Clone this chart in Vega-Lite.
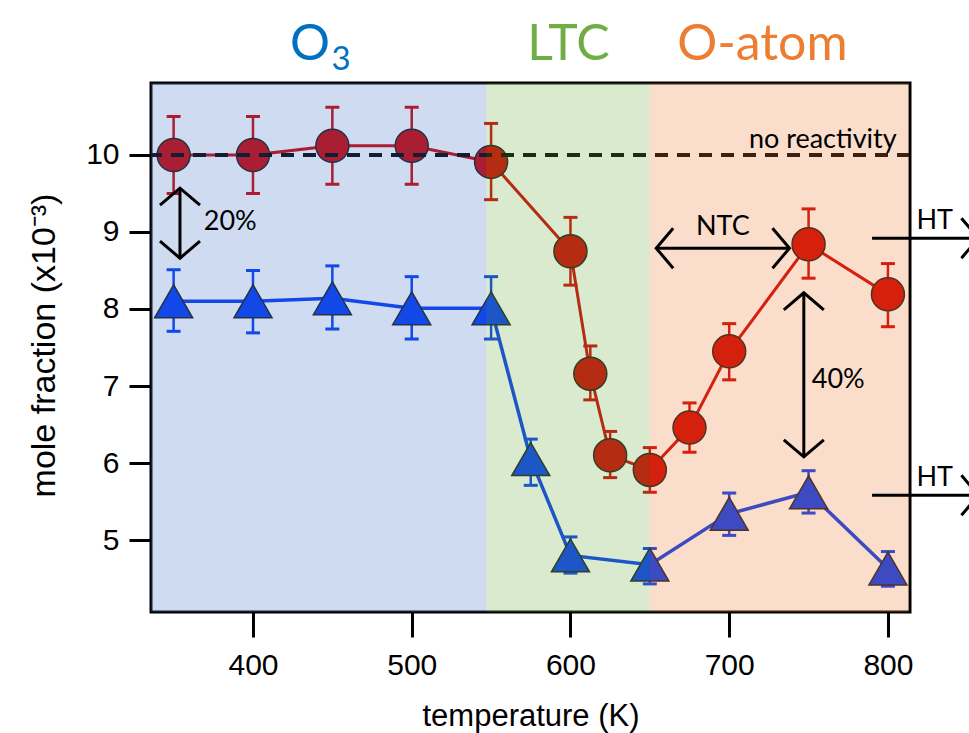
{
  "$schema": "https://vega.github.io/schema/vega-lite/v6.json",
  "width": 759,
  "height": 529,
  "autosize": {"type": "none"},
  "padding": {"left": 151, "top": 83, "right": 59, "bottom": 121},
  "background": "white",
  "config": {
    "font": "Liberation Sans",
    "view": {"stroke": "#000000", "strokeWidth": 3},
    "axis": {
      "domain": false, "grid": false, "ticks": true,
      "tickColor": "#000000", "tickWidth": 3, "tickSize": 24,
      "labelFont": "Liberation Sans", "labelFontSize": 30, "labelColor": "#000000",
      "titleFont": "Liberation Sans", "titleFontSize": 31, "titleFontWeight": "normal", "titleColor": "#000000"
    }
  },
  "datasets": {
    "meas": [
      {"series": "neat", "T": 350, "y": 10.0, "lo": 9.5, "hi": 10.5},
      {"series": "neat", "T": 400, "y": 10.0, "lo": 9.5, "hi": 10.5},
      {"series": "neat", "T": 450, "y": 10.12, "lo": 9.62, "hi": 10.62},
      {"series": "neat", "T": 500, "y": 10.12, "lo": 9.62, "hi": 10.62},
      {"series": "neat", "T": 550, "y": 9.91, "lo": 9.42, "hi": 10.41},
      {"series": "neat", "T": 600, "y": 8.75, "lo": 8.31, "hi": 9.19},
      {"series": "neat", "T": 612.5, "y": 7.16, "lo": 6.82, "hi": 7.52},
      {"series": "neat", "T": 625, "y": 6.1, "lo": 5.81, "hi": 6.41},
      {"series": "neat", "T": 650, "y": 5.91, "lo": 5.62, "hi": 6.2},
      {"series": "neat", "T": 675, "y": 6.46, "lo": 6.14, "hi": 6.78},
      {"series": "neat", "T": 700, "y": 7.45, "lo": 7.08, "hi": 7.81},
      {"series": "neat", "T": 750, "y": 8.84, "lo": 8.4, "hi": 9.3},
      {"series": "neat", "T": 800, "y": 8.19, "lo": 7.77, "hi": 8.59},
      {"series": "O3", "T": 350, "y": 8.1, "lo": 7.71, "hi": 8.51},
      {"series": "O3", "T": 400, "y": 8.1, "lo": 7.69, "hi": 8.5},
      {"series": "O3", "T": 450, "y": 8.14, "lo": 7.74, "hi": 8.56},
      {"series": "O3", "T": 500, "y": 8.01, "lo": 7.61, "hi": 8.42},
      {"series": "O3", "T": 550, "y": 8.01, "lo": 7.61, "hi": 8.42},
      {"series": "O3", "T": 575, "y": 6.05, "lo": 5.71, "hi": 6.31},
      {"series": "O3", "T": 600, "y": 4.8, "lo": 4.57, "hi": 5.04},
      {"series": "O3", "T": 650, "y": 4.68, "lo": 4.43, "hi": 4.89},
      {"series": "O3", "T": 700, "y": 5.34, "lo": 5.06, "hi": 5.61},
      {"series": "O3", "T": 750, "y": 5.62, "lo": 5.35, "hi": 5.9},
      {"series": "O3", "T": 800, "y": 4.63, "lo": 4.4, "hi": 4.85}
    ],
    "regimes": [
      {"regime": "O3", "T": 335.75, "T2": 547},
      {"regime": "LTC", "T": 547, "T2": 650},
      {"regime": "O-atom", "T": 650, "T2": 813.2}
    ],
    "arrows": [
      {"T": 354, "y": 9.57, "T2": 354, "y2": 8.66},
      {"T": 654, "y": 8.79, "T2": 738, "y2": 8.79},
      {"T": 747, "y": 8.21, "T2": 747, "y2": 6.08},
      {"T": 790, "y": 8.92, "T2": 857, "y2": 8.92},
      {"T": 790, "y": 5.58, "T2": 857, "y2": 5.58}
    ],
    "heads": [
      {"T": 354, "y": 9.57, "dir": "up"},
      {"T": 354, "y": 8.66, "dir": "down"},
      {"T": 654, "y": 8.79, "dir": "left"},
      {"T": 738, "y": 8.79, "dir": "right"},
      {"T": 747, "y": 8.21, "dir": "up"},
      {"T": 747, "y": 6.08, "dir": "down"},
      {"T": 857, "y": 8.92, "dir": "right"},
      {"T": 857, "y": 5.58, "dir": "right"}
    ]
  },
  "resolve": {"scale": {"color": "independent"}},
  "layer": [
    {
      "data": {"name": "meas"},
      "transform": [{"filter": "datum.series === 'neat'"}],
      "mark": {"type": "line", "color": "#cc0000", "strokeWidth": 3},
      "encoding": {
        "x": {"field": "T", "type": "quantitative",
              "scale": {"domain": [335.75, 813.9], "nice": false, "zero": false},
              "axis": {"title": "temperature (K)", "values": [400, 500, 600, 700, 800], "format": "d",
                       "tickSize": 25, "tickWidth": 3, "tickColor": "#000000",
                       "labelFont": "Liberation Sans", "labelFontSize": 30, "labelPadding": 13,
                       "titleFont": "Liberation Sans", "titleFontSize": 31,
                       "titleY": 89, "titleBaseline": "top"}},
        "y": {"field": "y", "type": "quantitative",
              "scale": {"domain": [4.065, 10.935], "nice": false, "zero": false},
              "axis": {"title": "mole fraction (x10⁻³)", "values": [5, 6, 7, 8, 9, 10], "format": "d",
                       "tickSize": 22, "tickWidth": 3, "tickColor": "#000000",
                       "labelFont": "Liberation Sans", "labelFontSize": 30, "labelPadding": 10,
                       "titleFont": "Liberation Sans", "titleFontSize": 34,
                       "titleX": -97, "titleY": 262, "titleBaseline": "alphabetic"}}
      }
    },
    {
      "data": {"name": "meas"},
      "transform": [{"filter": "datum.series === 'O3'"}],
      "mark": {"type": "line", "color": "#0039f5", "strokeWidth": 3.5},
      "encoding": {
        "x": {"field": "T", "type": "quantitative"},
        "y": {"field": "y", "type": "quantitative"}
      }
    },
    {
      "data": {"name": "meas"},
      "transform": [{"filter": "datum.series === 'neat'"}],
      "mark": {"type": "rule", "color": "#cc0000", "strokeWidth": 2.5},
      "encoding": {
        "x": {"field": "T", "type": "quantitative"},
        "y": {"field": "lo", "type": "quantitative"},
        "y2": {"field": "hi"}
      }
    },
    {
      "data": {"name": "meas"},
      "transform": [{"filter": "datum.series === 'neat'"}],
      "mark": {"type": "tick", "orient": "horizontal", "color": "#cc0000", "size": 14, "thickness": 3, "opacity": 1},
      "encoding": {
        "x": {"field": "T", "type": "quantitative"},
        "y": {"field": "lo", "type": "quantitative"}
      }
    },
    {
      "data": {"name": "meas"},
      "transform": [{"filter": "datum.series === 'neat'"}],
      "mark": {"type": "tick", "orient": "horizontal", "color": "#cc0000", "size": 14, "thickness": 3, "opacity": 1},
      "encoding": {
        "x": {"field": "T", "type": "quantitative"},
        "y": {"field": "hi", "type": "quantitative"}
      }
    },
    {
      "data": {"name": "meas"},
      "transform": [{"filter": "datum.series === 'O3'"}],
      "mark": {"type": "rule", "color": "#0039f5", "strokeWidth": 2.5},
      "encoding": {
        "x": {"field": "T", "type": "quantitative"},
        "y": {"field": "lo", "type": "quantitative"},
        "y2": {"field": "hi"}
      }
    },
    {
      "data": {"name": "meas"},
      "transform": [{"filter": "datum.series === 'O3'"}],
      "mark": {"type": "tick", "orient": "horizontal", "color": "#0039f5", "size": 14, "thickness": 3, "opacity": 1},
      "encoding": {
        "x": {"field": "T", "type": "quantitative"},
        "y": {"field": "lo", "type": "quantitative"}
      }
    },
    {
      "data": {"name": "meas"},
      "transform": [{"filter": "datum.series === 'O3'"}],
      "mark": {"type": "tick", "orient": "horizontal", "color": "#0039f5", "size": 14, "thickness": 3, "opacity": 1},
      "encoding": {
        "x": {"field": "T", "type": "quantitative"},
        "y": {"field": "hi", "type": "quantitative"}
      }
    },
    {
      "data": {"name": "meas"},
      "transform": [{"filter": "datum.series === 'neat'"}],
      "mark": {"type": "point", "shape": "circle", "filled": true, "fill": "#cc0000", "stroke": "#1a1a1a", "strokeWidth": 1.5, "size": 1089, "opacity": 1},
      "encoding": {
        "x": {"field": "T", "type": "quantitative"},
        "y": {"field": "y", "type": "quantitative"}
      }
    },
    {
      "data": {"name": "meas"},
      "transform": [{"filter": "datum.series === 'O3'"}],
      "mark": {"type": "point", "shape": "triangle-up", "filled": true, "fill": "#0039f5", "stroke": "#1a1a1a", "strokeWidth": 1.5, "size": 1444, "opacity": 1},
      "encoding": {
        "x": {"field": "T", "type": "quantitative"},
        "y": {"field": "y", "type": "quantitative"}
      }
    },
    {
      "data": {"values": [{"level": 10}]},
      "mark": {"type": "rule", "color": "#000000", "strokeWidth": 4, "strokeDash": [13, 9]},
      "encoding": {"y": {"field": "level", "type": "quantitative"}}
    },
    {
      "data": {"name": "regimes"},
      "mark": {"type": "rect", "opacity": 0.26},
      "encoding": {
        "x": {"field": "T", "type": "quantitative"},
        "x2": {"field": "T2"},
        "color": {"field": "regime", "type": "nominal",
                  "scale": {"domain": ["O3", "LTC", "O-atom"], "range": ["#4472c4", "#70ad47", "#ed7d31"]},
                  "legend": null}
      }
    },
    {
      "data": {"name": "arrows"},
      "mark": {"type": "rule", "color": "#000000", "strokeWidth": 3},
      "encoding": {
        "x": {"field": "T", "type": "quantitative"},
        "y": {"field": "y", "type": "quantitative"},
        "x2": {"field": "T2"},
        "y2": {"field": "y2"}
      }
    },
    {
      "data": {"name": "heads"},
      "mark": {"type": "point", "filled": false, "stroke": "#000000", "strokeWidth": 3, "size": 1600, "opacity": 1},
      "encoding": {
        "x": {"field": "T", "type": "quantitative"},
        "y": {"field": "y", "type": "quantitative"},
        "shape": {"field": "dir", "type": "nominal",
                  "scale": {"domain": ["up", "down", "left", "right"],
                            "range": ["M-1,0.85L0,0L1,0.85", "M-1,-0.85L0,0L1,-0.85", "M0.85,-1L0,0L0.85,1", "M-0.85,-1L0,0L-0.85,1"]},
                  "legend": null}
      }
    },
    {
      "data": {"values": [
        {"T": 369, "y": 9.13, "label": "20%"},
        {"T": 752, "y": 7.08, "label": "40%"},
        {"T": 818, "y": 9.14, "label": "HT"},
        {"T": 818, "y": 5.81, "label": "HT"}
      ]},
      "mark": {"type": "text", "font": "Lato", "fontSize": 27, "color": "#000000", "align": "left", "baseline": "middle"},
      "encoding": {
        "x": {"field": "T", "type": "quantitative"},
        "y": {"field": "y", "type": "quantitative"},
        "text": {"field": "label"}
      }
    },
    {
      "data": {"values": [{"T": 696, "y": 9.07, "label": "NTC"}]},
      "mark": {"type": "text", "font": "Lato", "fontSize": 27, "color": "#000000", "align": "center", "baseline": "middle"},
      "encoding": {
        "x": {"field": "T", "type": "quantitative"},
        "y": {"field": "y", "type": "quantitative"},
        "text": {"field": "label"}
      }
    },
    {
      "data": {"values": [{"T": 805.5, "y": 10.09, "label": "no reactivity"}]},
      "mark": {"type": "text", "font": "Lato", "fontSize": 27, "color": "#000000", "align": "right", "baseline": "alphabetic"},
      "encoding": {
        "x": {"field": "T", "type": "quantitative"},
        "y": {"field": "y", "type": "quantitative"},
        "text": {"field": "label"}
      }
    },
    {
      "data": {"values": [
        {"T": 435.9, "y": 11.234, "label": "O", "regime": "O3"},
        {"T": 598.7, "y": 11.234, "label": "LTC", "regime": "LTC"},
        {"T": 720.9, "y": 11.234, "label": "O-atom", "regime": "O-atom"}
      ]},
      "mark": {"type": "text", "font": "Lato", "fontSize": 50, "align": "center", "baseline": "alphabetic"},
      "encoding": {
        "x": {"field": "T", "type": "quantitative"},
        "y": {"field": "y", "type": "quantitative"},
        "text": {"field": "label"},
        "color": {"field": "regime", "type": "nominal",
                  "scale": {"domain": ["O3", "LTC", "O-atom"], "range": ["#0070c0", "#70ad47", "#ed7d31"]},
                  "legend": null}
      }
    },
    {
      "data": {"values": [{"T": 455.5, "y": 11.1, "label": "3"}]},
      "mark": {"type": "text", "font": "Lato", "fontSize": 33, "align": "center", "baseline": "alphabetic", "color": "#0070c0"},
      "encoding": {
        "x": {"field": "T", "type": "quantitative"},
        "y": {"field": "y", "type": "quantitative"},
        "text": {"field": "label"}
      }
    }
  ]
}
